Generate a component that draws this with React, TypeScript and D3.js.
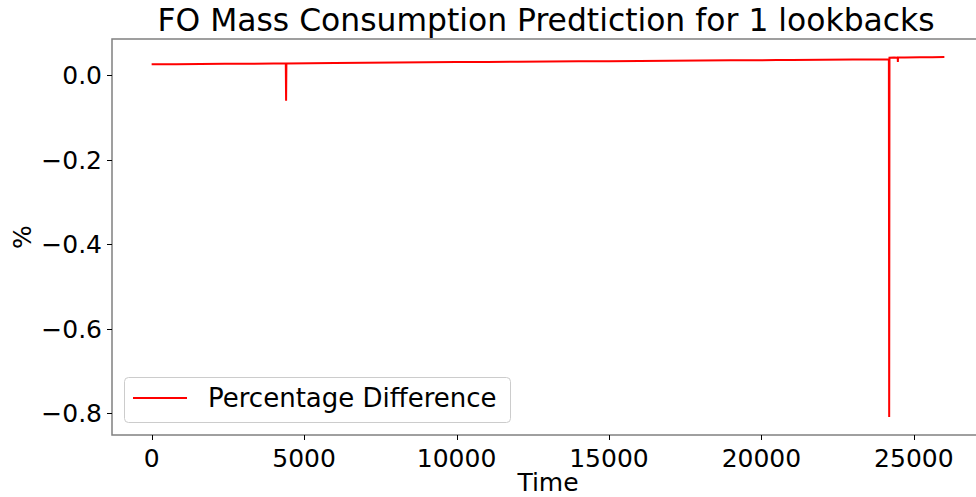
import React, { useEffect, useRef } from "react";
import * as d3 from "d3";

// Time index of each sample and the percentage difference at that time
const timeSteps = [
  0, 800, 1600, 2400, 3200, 4000, 4400, 4410, 4420, 5200, 6000, 7000, 8000,
  9000, 10000, 11000, 12000, 13000, 14000, 15000, 16000, 17000, 18000, 19000,
  20000, 20500, 21000, 22000, 23000, 23800, 24180, 24190, 24200, 24350, 24470,
  24475, 24480, 24700, 25200, 25600, 26000,
];
const pctDiff = [
  0.0255, 0.0258, 0.0262, 0.0266, 0.0268, 0.0272, 0.0274, -0.061, 0.0276,
  0.0281, 0.0286, 0.0291, 0.0296, 0.0301, 0.0306, 0.0309, 0.0314, 0.0319,
  0.0324, 0.0329, 0.0334, 0.0338, 0.0343, 0.0348, 0.0352, 0.0356, 0.0358,
  0.0362, 0.0366, 0.037, 0.0375, -0.809, 0.0412, 0.0414, 0.0412, 0.031, 0.0416,
  0.0418, 0.0421, 0.0424, 0.0427,
];

const xTicks = [0, 5000, 10000, 15000, 20000, 25000];
const yTicks = [0.0, -0.2, -0.4, -0.6, -0.8];

const titleText = "FO Mass Consumption Predtiction for 1 lookbacks";
const xLabel = "Time";
const yLabel = "%";
const legendLabel = "Percentage Difference";

const W = 976;
const H = 497;
const FONT = "'DejaVu Sans', sans-serif";

export default function App() {
  const ref = useRef<SVGSVGElement | null>(null);

  useEffect(() => {
    const svg = d3.select(ref.current);
    svg.selectAll("*").remove();

    const left = 112;
    const right = 984;
    const top = 39;
    const bottom = 435;

    const xMin = d3.min(timeSteps)!;
    const xMax = d3.max(timeSteps)!;
    const xPad = (xMax - xMin) * 0.05;
    const yMin = d3.min(pctDiff)!;
    const yMax = d3.max(pctDiff)!;
    const yPad = (yMax - yMin) * 0.05;

    const x = d3.scaleLinear().domain([xMin - xPad, xMax + xPad]).range([left, right]);
    const y = d3.scaleLinear().domain([yMin - yPad, yMax + yPad]).range([bottom, top]);

    const pts: [number, number][] = timeSteps.map((t, i) => [t, pctDiff[i]]);

    svg
      .append("rect")
      .attr("x", 0)
      .attr("y", 0)
      .attr("width", W)
      .attr("height", H)
      .attr("fill", "#fff");

    const line = d3
      .line<[number, number]>()
      .x((d) => x(d[0]))
      .y((d) => y(d[1]));

    svg
      .append("path")
      .datum(pts)
      .attr("d", line)
      .attr("fill", "none")
      .attr("stroke", "#ff0000")
      .attr("stroke-width", 2)
      .attr("stroke-linejoin", "miter");

    // frame
    const spine = "#808080";
    svg
      .append("rect")
      .attr("x", left)
      .attr("y", top)
      .attr("width", right - left)
      .attr("height", bottom - top)
      .attr("fill", "none")
      .attr("stroke", spine)
      .attr("stroke-width", 1.5);

    // x ticks
    const xg = svg.append("g");
    xTicks.forEach((t) => {
      const px = Math.round(x(t)) + 0.5;
      xg.append("line")
        .attr("x1", px)
        .attr("x2", px)
        .attr("y1", bottom)
        .attr("y2", bottom + 5)
        .attr("stroke", "#000")
        .attr("stroke-width", 1);
      xg.append("text")
        .attr("x", x(t))
        .attr("y", bottom + 32)
        .attr("text-anchor", "middle")
        .attr("font-family", FONT)
        .attr("font-size", 25)
        .attr("fill", "#000")
        .text(String(t));
    });

    // y ticks
    const yg = svg.append("g");
    yTicks.forEach((v) => {
      const py = Math.round(y(v)) + 0.5;
      yg.append("line")
        .attr("x1", left - 5)
        .attr("x2", left)
        .attr("y1", py)
        .attr("y2", py)
        .attr("stroke", "#000")
        .attr("stroke-width", 1);
      yg.append("text")
        .attr("x", left - 10)
        .attr("y", y(v))
        .attr("dy", "0.36em")
        .attr("text-anchor", "end")
        .attr("font-family", FONT)
        .attr("font-size", 25)
        .attr("fill", "#000")
        .text(d3.format(".1f")(v).replace("-", "\u2212"));
    });

    // title and axis labels
    svg
      .append("text")
      .attr("x", (left + right) / 2 - 2)
      .attr("y", 31)
      .attr("text-anchor", "middle")
      .attr("font-family", FONT)
      .attr("font-size", 31.4)
      .attr("fill", "#000")
      .text(titleText);

    svg
      .append("text")
      .attr("x", (left + right) / 2)
      .attr("y", 491)
      .attr("text-anchor", "middle")
      .attr("font-family", FONT)
      .attr("font-size", 25)
      .attr("fill", "#000")
      .text(xLabel);

    svg
      .append("text")
      .attr("transform", `translate(31, ${(top + bottom) / 2}) rotate(-90)`)
      .attr("text-anchor", "middle")
      .attr("font-family", FONT)
      .attr("font-size", 25)
      .attr("fill", "#000")
      .text(yLabel);

    // legend
    const lg = svg.append("g");
    lg.append("rect")
      .attr("x", 124.5)
      .attr("y", 377.5)
      .attr("width", 386)
      .attr("height", 45)
      .attr("rx", 4)
      .attr("fill", "#fff")
      .attr("fill-opacity", 0.8)
      .attr("stroke", "#cccccc")
      .attr("stroke-width", 1);
    lg.append("line")
      .attr("x1", 133)
      .attr("x2", 187)
      .attr("y1", 398)
      .attr("y2", 398)
      .attr("stroke", "#ff0000")
      .attr("stroke-width", 2);
    lg.append("text")
      .attr("x", 208)
      .attr("y", 407)
      .attr("font-family", FONT)
      .attr("font-size", 26)
      .attr("fill", "#000")
      .text(legendLabel);
  }, []);

  return (
    <svg
      ref={ref}
      width={W}
      height={H}
      style={{ position: "absolute", left: 0, top: 0, display: "block" }}
    />
  );
}
